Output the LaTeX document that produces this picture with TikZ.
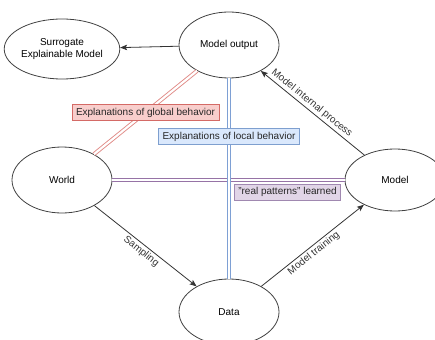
\documentclass[tikz,border=0pt]{standalone}
\usepackage{fontspec}
\setmainfont{Liberation Sans}
\usepackage{tikz}
\usetikzlibrary{arrows.meta,shapes.geometric}

\definecolor{redfill}{HTML}{F8CECC}
\definecolor{redline}{HTML}{E08A86}
\definecolor{rededge}{HTML}{D46A66}
\definecolor{bluefill}{HTML}{DAE8FC}
\definecolor{blueline}{HTML}{7EA0D4}
\definecolor{blueedge}{HTML}{7E9FCF}
\definecolor{purpfill}{HTML}{E1D5E7}
\definecolor{purpline}{HTML}{9673A6}
\definecolor{purpedge}{HTML}{A088B0}

\newcommand\diafont{\fontsize{10}{12}\selectfont}

\begin{document}
\begin{tikzpicture}[x=1pt, y=-1pt,
    blob/.style={ellipse, draw=black!75, line width=0.8pt, fill=white,
      minimum width=100pt, minimum height=66pt, inner sep=0pt,
      align=center, font=\diafont},
    flow/.style={draw=black!80, line width=0.8pt,
      -{Stealth[length=7pt, width=5.5pt, inset=1.5pt]}},
    backflow/.style={draw=black!80, line width=0.8pt,
      {Stealth[length=7pt, width=5.5pt, inset=1.5pt]}-},
    lbl/.style={sloped, font=\diafont, text=black!80, inner sep=2pt},
    twin/.style={line width=0.9pt, double=white, double distance=2.2pt},
    tag/.style={line width=0.6pt, inner xsep=4pt, inner ysep=0pt,
      minimum height=16pt, font=\diafont, text=black!85}]
  \clip (0,0) rectangle (435,339);

  %% the five ellipses
  \node[blob, minimum height=60pt] (sur) at (62,49) {Surrogate\\Explainable Model};
  \node[blob] (out) at (229,45) {Model output};
  \node[blob] (world) at (62,180) {World};
  \node[blob, minimum height=62pt] (model) at (395,180) {Model};
  \node[blob] (data) at (229,312) {Data};

  %% double lines with their tags
  \draw[twin, draw=purpline] (world) -- (model);
  \node[tag, draw=purpedge, fill=purpfill] (patterns) at (287.5,192)
    {"real patterns" learned};
  \draw[twin, draw=redline] (world) -- node[tag, draw=rededge, fill=redfill]
    (global) {Explanations of global behavior} (out);
  \draw[twin, draw=blueline] (out) -- node[tag, draw=blueedge, fill=bluefill,
    pos=0.29] (local) {Explanations of local behavior} (data);

  %% arrows
  \draw[flow] (out) -- (sur);
  \draw[backflow] (out) -- node[lbl, above, pos=0.45] (internal)
    {Model internal process} (model);
  \draw[flow] (world) -- node[lbl, below, pos=0.5] (sampling) {Sampling} (data);
  \draw[flow] (data) -- node[lbl, below, pos=0.47] (training)
    {Model training} (model);
\end{tikzpicture}
\end{document}
